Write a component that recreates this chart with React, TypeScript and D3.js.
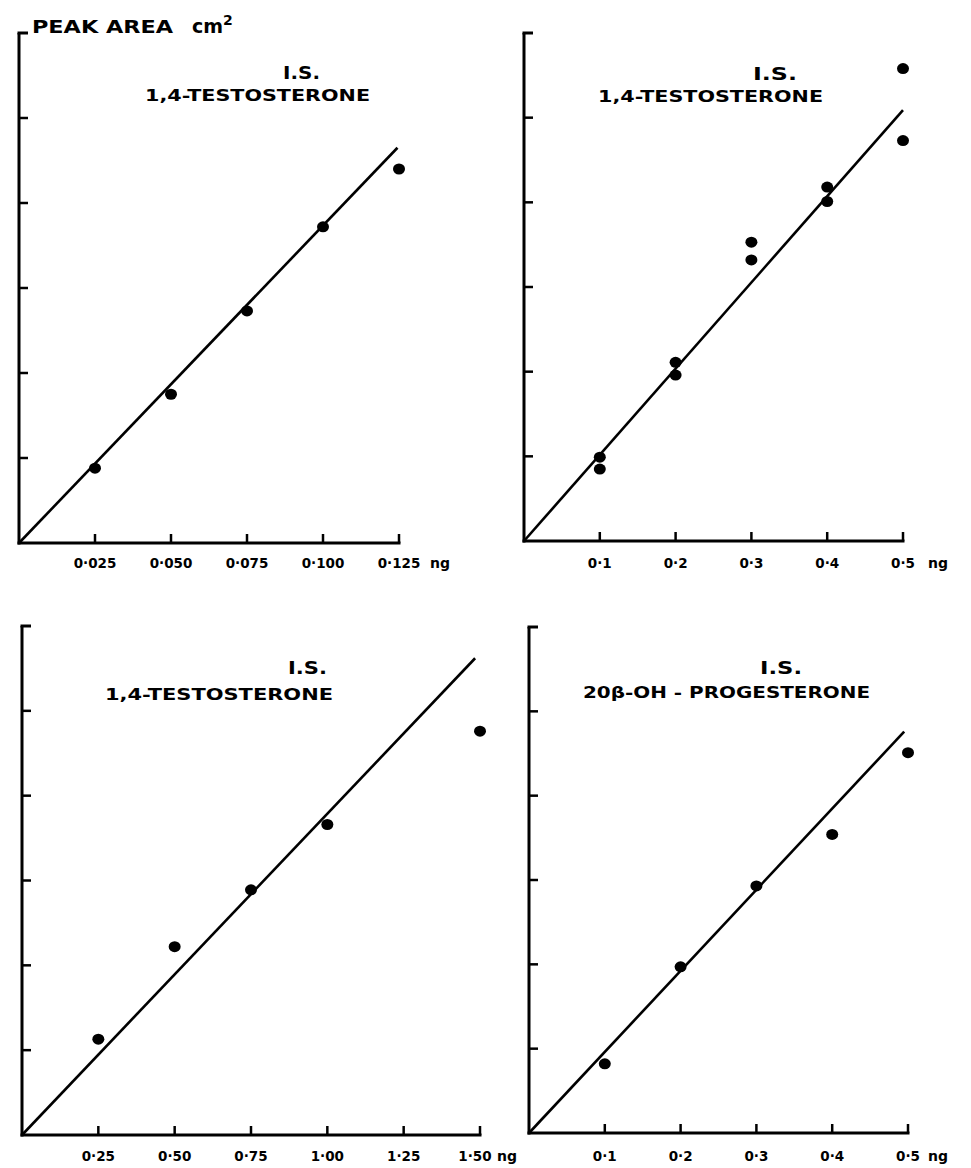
import React from "react";
import * as d3 from "d3";

// ---- data ----
const yTickValues = [1, 2, 3, 4, 5];
const yMaxValue = 6;

// Panel A (top-left)
const aTicks = [0.025, 0.05, 0.075, 0.1, 0.125];
const aTickLabels = ["0·025", "0·050", "0·075", "0·100", "0·125"];
const aX = [0.025, 0.05, 0.075, 0.1, 0.125];
const aY = [0.88, 1.75, 2.73, 3.72, 4.4];
const aLine: [number, number][] = [[0, 0], [0.1245, 4.65]];
const aTitle = ["I.S.", "1,4-TESTOSTERONE"];

// Panel B (top-right)
const bTicks = [0.1, 0.2, 0.3, 0.4, 0.5];
const bTickLabels = ["0·1", "0·2", "0·3", "0·4", "0·5"];
const bX = [0.1, 0.1, 0.2, 0.2, 0.3, 0.3, 0.4, 0.4, 0.5, 0.5];
const bY = [0.99, 0.85, 2.11, 1.96, 3.53, 3.32, 4.18, 4.01, 5.58, 4.73];
const bLine: [number, number][] = [[0, 0], [0.5, 5.09]];
const bTitle = ["I.S.", "1,4-TESTOSTERONE"];

// Panel C (bottom-left)
const cTicks = [0.25, 0.5, 0.75, 1.0, 1.25, 1.5];
const cTickLabels = ["0·25", "0·50", "0·75", "1·00", "1·25", "1·50"];
const cX = [0.25, 0.5, 0.75, 1.0, 1.5];
const cY = [1.13, 2.22, 2.89, 3.66, 4.76];
const cLine: [number, number][] = [[0, 0], [1.484, 5.62]];
const cTitle = ["I.S.", "1,4-TESTOSTERONE"];

// Panel D (bottom-right)
const dTicks = [0.1, 0.2, 0.3, 0.4, 0.5];
const dTickLabels = ["0·1", "0·2", "0·3", "0·4", "0·5"];
const dX = [0.1, 0.2, 0.3, 0.4, 0.5];
const dY = [0.82, 1.97, 2.93, 3.54, 4.51];
const dLine: [number, number][] = [[0, 0], [0.495, 4.76]];
const dTitle = ["I.S.", "20β-OH - PROGESTERONE"];

const FONT = "'DejaVu Sans', 'Liberation Sans', Arial, sans-serif";

type PanelProps = {
  x0: number; x1: number; yb: number; yt: number;
  ticks: number[]; tickLabels: string[];
  xs: number[]; ys: number[]; line: [number, number][];
  title: string[];
  is: { x: number; y: number; w: number };
  sub: { x: number; y: number; w: number };
  labelY: number; ngX: number; lastShift?: number;
};

function Panel(p: PanelProps) {
  const xMax = p.ticks[p.ticks.length - 1];
  const x = d3.scaleLinear().domain([0, xMax]).range([p.x0, p.x1]);
  const y = d3.scaleLinear().domain([0, yMaxValue]).range([p.yb, p.yt]);
  const lineGen = d3.line<[number, number]>().x((d) => x(d[0])).y((d) => y(d[1]));
  const tickLen = 9;
  return (
    <g>
      {/* y axis */}
      <line x1={p.x0} y1={y(0) + 1.5} x2={p.x0} y2={y(yMaxValue)} stroke="#000" strokeWidth={3} />
      <line x1={p.x0 - 1.5} y1={y(yMaxValue)} x2={p.x0 + tickLen} y2={y(yMaxValue)} stroke="#000" strokeWidth={3} />
      {yTickValues.map((v) => (
        <line key={"yt" + v} x1={p.x0} x2={p.x0 + tickLen} y1={y(v)} y2={y(v)} stroke="#000" strokeWidth={2.5} />
      ))}
      {/* x axis */}
      <line x1={p.x0 - 1.5} y1={y(0)} x2={x(xMax) + 1.5} y2={y(0)} stroke="#000" strokeWidth={3} />
      {p.ticks.map((t) => (
        <line key={"xt" + t} x1={x(t)} x2={x(t)} y1={y(0)} y2={y(0) - tickLen} stroke="#000" strokeWidth={2.5} />
      ))}
      {p.ticks.map((t, i) => (
        <text key={"xl" + t} x={x(t) + (i === p.ticks.length - 1 ? p.lastShift || 0 : 0)} y={p.labelY}
          textAnchor="middle" fontFamily={FONT} fontWeight="bold" fontSize={13.5}>
          {p.tickLabels[i]}
        </text>
      ))}
      <text x={p.ngX} y={p.labelY} fontFamily={FONT} fontWeight="bold" fontSize={14}>ng</text>
      {/* fit line */}
      <path d={lineGen(p.line) || ""} fill="none" stroke="#000" strokeWidth={2.6} />
      {/* points */}
      {p.xs.map((v, i) => (
        <ellipse key={"pt" + i} cx={x(v)} cy={y(p.ys[i])} rx={6} ry={5.5} fill="#000" />
      ))}
      {/* titles */}
      <text x={p.is.x} y={p.is.y} textLength={p.is.w} lengthAdjust="spacingAndGlyphs" fontFamily={FONT} fontWeight="bold" fontSize={18}>
        {p.title[0]}
      </text>
      <text x={p.sub.x} y={p.sub.y} textLength={p.sub.w} lengthAdjust="spacingAndGlyphs" fontFamily={FONT} fontWeight="bold" fontSize={16}>
        {p.title[1]}
      </text>
    </g>
  );
}

export default function App() {
  return (
    <svg width={955} height={1160} viewBox="8 8 955 1160" style={{ display: "block", background: "#fff" }}>
      <rect x={0} y={0} width={971} height={1168} fill="#fff" />
      <text x={32} y={33} textLength={141} lengthAdjust="spacingAndGlyphs" fontFamily={FONT} fontWeight="bold" fontSize={17}>
        PEAK AREA
      </text>
      <text x={192} y={33} fontFamily={FONT} fontWeight="bold" fontSize={19}>
        cm
        <tspan dy={-8} fontSize={14}>2</tspan>
      </text>
      <Panel x0={19} x1={399} yb={543} yt={33} ticks={aTicks} tickLabels={aTickLabels} xs={aX} ys={aY} line={aLine}
        title={aTitle} is={{ x: 283, y: 79, w: 37 }} sub={{ x: 145, y: 101, w: 225 }} labelY={568} ngX={430} />
      <Panel x0={524} x1={903} yb={541} yt={33} ticks={bTicks} tickLabels={bTickLabels} xs={bX} ys={bY} line={bLine}
        title={bTitle} is={{ x: 753, y: 80, w: 44 }} sub={{ x: 598, y: 102, w: 225 }} labelY={568} ngX={928} />
      <Panel x0={22} x1={480} yb={1135} yt={626} ticks={cTicks} tickLabels={cTickLabels} xs={cX} ys={cY} line={cLine}
        title={cTitle} is={{ x: 288, y: 674, w: 39 }} sub={{ x: 105, y: 700, w: 228 }} labelY={1161} ngX={497} lastShift={-5} />
      <Panel x0={529} x1={908} yb={1133} yt={627} ticks={dTicks} tickLabels={dTickLabels} xs={dX} ys={dY} line={dLine}
        title={dTitle} is={{ x: 760, y: 674, w: 42 }} sub={{ x: 583, y: 698, w: 287 }} labelY={1161} ngX={928} />
    </svg>
  );
}
